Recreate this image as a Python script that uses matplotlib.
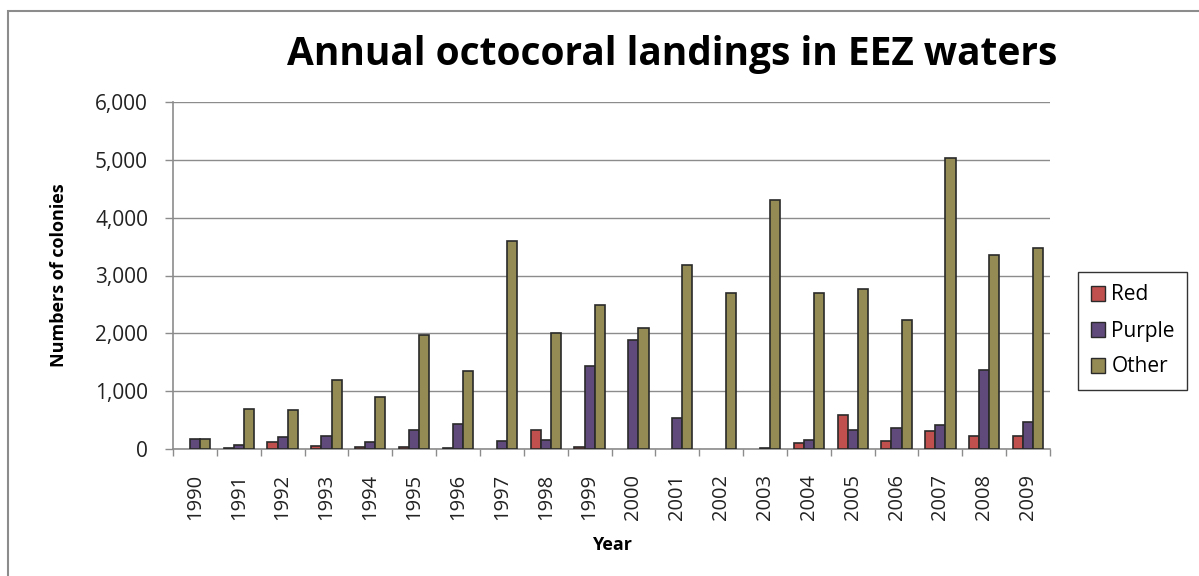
import matplotlib
matplotlib.use('Agg')
import matplotlib.pyplot as plt
import numpy as np
from matplotlib.patches import Rectangle
from matplotlib.ticker import FuncFormatter

years = ['1990', '1991', '1992', '1993', '1994', '1995', '1996', '1997', '1998', '1999',
         '2000', '2001', '2002', '2003', '2004', '2005', '2006', '2007', '2008', '2009']
red = [0, 10, 120, 57, 35, 35, 15, 0, 323, 35, 0, 0, 0, 0, 104, 588, 138, 306, 230, 230]
purple = [178, 70, 202, 219, 121, 323, 427, 138, 161, 1436, 1886, 542, 0, 15, 161, 323, 357, 409, 1367, 461]
other = [178, 687, 669, 1188, 900, 1978, 1349, 3602, 2013, 2493, 2099, 3190, 2706, 4311, 2706, 2775, 2226, 5035, 3358, 3479]

plt.rcParams['font.family'] = ['Open Sans', 'DejaVu Sans']

fig = plt.figure(figsize=(11.99, 5.76), dpi=100)
ax = fig.add_axes([173/1199, 1-449/576, 877/1199, 347/576])

x = np.arange(len(years))
w = 0.23
edge = '#2a2a2a'

series = [(red, '#C0504D', 'Red', -w), (purple, '#604A7B', 'Purple', 0), (other, '#948A54', 'Other', w)]
for vals, col, name, off in series:
	lw = [0 if v == 0 else 1.2 for v in vals]
	ax.bar(x+off, vals, width=w, color=col, edgecolor=edge, linewidth=lw, label=name, zorder=3)

ax.set_xlim(-0.5, len(years)-0.5)
ax.set_ylim(0, 6000)
ax.set_yticks(np.arange(0, 6001, 1000))
ax.yaxis.set_major_formatter(FuncFormatter(lambda v, p: '{:,.0f}'.format(v)))
ax.grid(axis='y', color='#8c8c8c', linewidth=1, zorder=0)

ax.set_xticks(x)
ax.set_xticklabels(years, rotation=90, fontsize=14.5, color='#222222')
ax.set_xticks(np.arange(-0.5, len(years)), minor=True)
ax.tick_params(axis='x', which='major', length=0, pad=18)
ax.tick_params(axis='x', which='minor', length=5, color='#8c8c8c', width=1)
ax.tick_params(axis='y', labelsize=15, labelcolor='#222222', length=6, color='#8c8c8c', width=1, pad=12)

for s in ['top', 'right']:
	ax.spines[s].set_visible(False)
for s in ['left', 'bottom']:
	ax.spines[s].set_color('#8c8c8c')
	ax.spines[s].set_linewidth(1.2)

fig.text(672/1199, 1-55/576, 'Annual octocoral landings in EEZ waters', fontsize=28,
	fontweight='bold', ha='center', va='center')
fig.text(612/1199, 1-545/576, 'Year', fontsize=13, fontweight='bold', ha='center', va='center')
fig.text(59/1199, 1-275/576, 'Numbers of colonies', fontsize=13, fontweight='bold',
	rotation=90, ha='center', va='center')

leg = ax.legend(loc='upper left', bbox_to_anchor=(1078/1199, 1-272/576), bbox_transform=fig.transFigure,
	fontsize=15, frameon=True, fancybox=False, handlelength=0.7, handleheight=0.7,
	labelspacing=0.72, borderpad=0.6, handletextpad=0.3, borderaxespad=0)
leg.get_frame().set_edgecolor('black')
leg.get_frame().set_linewidth(1)
for h in leg.legend_handles:
	h.set_linewidth(1)

fig.add_artist(Rectangle((8/1199, -0.1), 1.2, 1.1-11/576, transform=fig.transFigure,
	fill=False, edgecolor='#8c8c8c', linewidth=1.5))

fig.savefig('out.png', dpi=100)
